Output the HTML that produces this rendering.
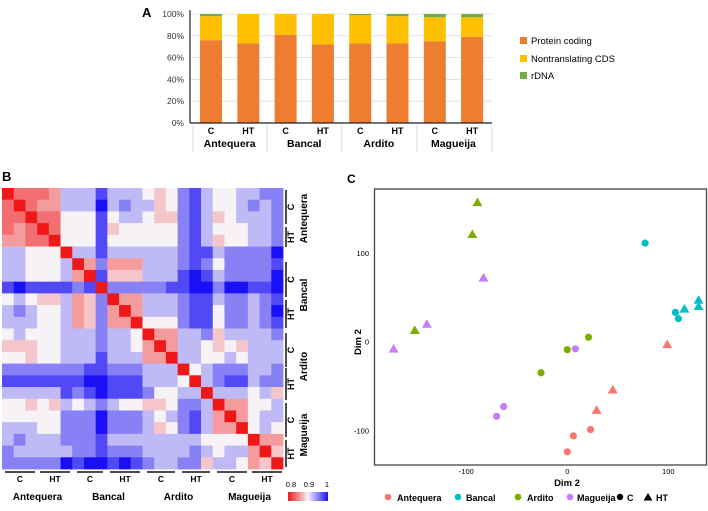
<!DOCTYPE html>
<html><head><meta charset="utf-8">
<style>
html,body{margin:0;padding:0;background:#fff;}
svg{display:block;font-family:"Liberation Sans",sans-serif;}
</style></head>
<body>
<svg id="fig" width="708" height="511" viewBox="0 0 708 511">
<g id="pa"></g>
<g id="pb"></g>
<g id="pc"></g>
</svg>
<script>
// ---------- Panel A data ----------
const barLabels=["C","HT","C","HT","C","HT","C","HT"];
const barGroups=["Antequera","Bancal","Ardito","Magueija"];
const proteinCoding=[76,73,81,72,73,73,75,79];
const nontranslating=[22,27,19,28,26,25,22,18];
const rDNA=[2,0,0,0,1,2,3,3];
const pctTicks=[0,20,40,60,80,100];
// ---------- Panel B data ----------
const hmRows=[
"022236668666545786556677",
"202336669676645786556767",
"220225558566544786456667",
"232025558455555786555667",
"332205558555555786455667",
"665550668666666788677779",
"665556037333666787577778",
"665556308444666898677779",
"898888780777778899799889",
"565446347033666788677678",
"676556347303666788577679",
"666556347330555788577678",
"565556667665033667466667",
"444556667665303665454666",
"554556668666330665565666",
"777777788777666056777667",
"888888899888666506788677",
"666668789888755660666564",
"554546567655445776033556",
"555557779777656786303566",
"666557779777645786330565",
"676667778666666665555033",
"766666778777666676566304",
"777779899898766774665340"];
const hmGroups=["Antequera","Bancal","Ardito","Magueija"];
const hmScaleTicks=["0.8","0.9","1"];
// ---------- Panel C data ----------
const cultivars=["Antequera","Bancal","Ardito","Magueija"];
const cultivarColors=["#F8766D","#00BFC4","#7CAE00","#C77CFF"];
const ptCultivar=[0,0,0,0,0,0,1,1,1,1,1,1,2,2,2,2,2,2,3,3,3,3,3,3];
const ptTreat=["C","C","C","HT","HT","HT","C","C","C","HT","HT","HT","C","C","C","HT","HT","HT","C","C","C","HT","HT","HT"];
const dim1=[0,6,23,99,45,29,77,107,110,116,130,130,21,0,-26,-89,-94,-151,8,-63,-70,-83,-139,-172];
const dim2=[-124,-106,-99,-3,-54,-77,111,33,26,37,47,40,5,-9,-35,157,121,13,-8,-73,-84,72,20,-8];
const cTicks=[-100,0,100];

const NS="http://www.w3.org/2000/svg";
function mk(parent,tag,attrs,text){const e=document.createElementNS(NS,tag);for(const k in attrs)e.setAttribute(k,attrs[k]);if(text!==undefined)e.textContent=text;parent.appendChild(e);return e;}

// ===== Panel A =====
const pa=document.getElementById('pa');
const ax0=190,ax1=492,ay0=123,ay1=14;
const yA=v=>ay0-(v/100)*(ay0-ay1);
const xA=i=>211+i*37.3;
let t=mk(pa,'text',{x:142,y:17,'font-size':13,'font-weight':'bold'},'A');


pctTicks.forEach(v=>{
 const g=mk(pa,'line',{x1:ax0,x2:ax1,y1:yA(v),y2:yA(v),stroke:'#dcdcdc','stroke-width':0.8});
 
 
 const l=mk(pa,'text',{x:184,y:yA(v)+3,'font-size':8.5,'text-anchor':'end',fill:'#333'},v+'%');
 
 
});
proteinCoding.forEach((v,i)=>{
 const x=xA(i)-11;
 let b=mk(pa,'rect',{x:x,y:yA(v),width:22,height:yA(0)-yA(v),fill:'#ED7D31'});
 
 
 const n=nontranslating[i];
 b=mk(pa,'rect',{x:x,y:yA(v+n),width:22,height:yA(v)-yA(v+n),fill:'#FFC000'});
 
 
 const r=rDNA[i];
 b=mk(pa,'rect',{x:x,y:yA(v+n+r),width:22,height:yA(v+n)-yA(v+n+r),fill:'#70AD47'});
 
 
 const l=mk(pa,'text',{x:xA(i),y:134,'font-size':9,'font-weight':'bold','text-anchor':'middle'},barLabels[i]);
 
 
});
let ln=mk(pa,'line',{x1:ax0,x2:ax0,y1:10,y2:ay0,stroke:'#222','stroke-width':1.2});


ln=mk(pa,'line',{x1:ax0,x2:ax1,y1:ay0,y2:ay0,stroke:'#222','stroke-width':1.2});


[193,267,342,417,492].forEach(x=>{
 const s=mk(pa,'line',{x1:x,x2:x,y1:125,y2:152,stroke:'#d0d0d0','stroke-width':0.8});
 
 
});
barGroups.forEach((g,i)=>{
 const l=mk(pa,'text',{x:(xA(2*i)+xA(2*i+1))/2,y:147,'font-size':10.5,'font-weight':'bold','text-anchor':'middle'},g);
 
 
});
[["Protein coding","#ED7D31",41],["Nontranslating CDS","#FFC000",59],["rDNA","#70AD47",76]].forEach(d=>{
 const r=mk(pa,'rect',{x:520,y:d[2]-4,width:7,height:7,fill:d[1]});
 
 
 const l=mk(pa,'text',{x:531,y:d[2]+3,'font-size':9.5},d[0]);
 
 
});

// ===== Panel B =====
const pb=document.getElementById('pb');
t=mk(pb,'text',{x:2,y:181,'font-size':13,'font-weight':'bold'},'B');


const hx0=2,hy0=188,cs=281/24;
const red=[238,24,24],wht=[246,242,246],blu=[26,16,245];
function col(d){let a,b,f;if(d<=5){a=red;b=wht;f=d/5;}else{a=wht;b=blu;f=(d-5)/4;}
 return 'rgb('+a.map((c,k)=>Math.round(c+(b[k]-c)*f)).join(',')+')';}
hmRows.forEach((row,r)=>{
 for(let c=0;c<row.length;c++){
  const cell=mk(pb,'rect',{x:hx0+c*cs,y:hy0+r*cs,width:cs+0.4,height:cs+0.4,fill:col(+row[c])});
  
  
 }
});
const rightBars=[[190,224,"C"],[227,247,"HT"],[262,297,"C"],[300,328,"HT"],[333,367,"C"],[368,400,"HT"],[403,437,"C"],[440,467,"HT"]];
rightBars.forEach(b=>{
 const l=mk(pb,'line',{x1:286,x2:286,y1:b[0],y2:b[1],stroke:'#111','stroke-width':1.5});
 
 
 const cy=(b[0]+b[1])/2;
 const tx=mk(pb,'text',{x:0,y:0,'font-size':9,'font-weight':'bold','text-anchor':'middle',transform:'translate(294,'+cy+') rotate(-90)'},b[2]);
 
 
});
hmGroups.forEach((g,i)=>{
 const cy=(rightBars[2*i][0]+rightBars[2*i+1][1])/2;
 const tx=mk(pb,'text',{x:0,y:0,'font-size':10,'font-weight':'bold','text-anchor':'middle',transform:'translate(307,'+cy+') rotate(-90)'},g);
 
 
});
const botBars=[[5,35,"C"],[40,70,"HT"],[77,103,"C"],[110,140,"HT"],[147,175,"C"],[182,210,"HT"],[217,247,"C"],[252,282,"HT"]];
botBars.forEach(b=>{
 const l=mk(pb,'line',{x1:b[0],x2:b[1],y1:472,y2:472,stroke:'#111','stroke-width':1.5});
 
 
 const tx=mk(pb,'text',{x:(b[0]+b[1])/2,y:482,'font-size':8.5,'font-weight':'bold','text-anchor':'middle'},b[2]);
 
 
});
hmGroups.forEach((g,i)=>{
 const tx=mk(pb,'text',{x:(botBars[2*i][0]+botBars[2*i+1][1])/2,y:500,'font-size':10,'font-weight':'bold','text-anchor':'middle'},g);
 
 
});
const defs=mk(pb,'defs',{});
const lg=mk(defs,'linearGradient',{id:'hmg',x1:0,x2:1,y1:0,y2:0});
mk(lg,'stop',{offset:'0','stop-color':'rgb(238,24,24)'});
mk(lg,'stop',{offset:'0.5','stop-color':'rgb(246,242,246)'});
mk(lg,'stop',{offset:'1','stop-color':'rgb(26,16,245)'});
const sb=mk(pb,'rect',{x:288,y:492,width:40,height:9,fill:'url(#hmg)'});


hmScaleTicks.forEach((s,i)=>{
 const tx=mk(pb,'text',{x:291+i*18,y:487,'font-size':7.5,'text-anchor':'middle'},s);
 
 
});

// ===== Panel C =====
const pc=document.getElementById('pc');
t=mk(pc,'text',{x:347,y:183,'font-size':12,'font-weight':'bold'},'C');


const xC=v=>567.3+v*1.01, yC=v=>341.7-v*0.888;
const fr=mk(pc,'rect',{x:374.5,y:189,width:332,height:276,fill:'none',stroke:'#444','stroke-width':1.3});


cTicks.forEach(v=>{
 let tx=mk(pc,'text',{x:369,y:yC(v)+3,'font-size':7.5,'text-anchor':'end'},v===-100?'-100':String(v));
 
 
 tx=mk(pc,'text',{x:xC(v),y:474,'font-size':7.5,'text-anchor':'middle'},String(v));
 
 
});
t=mk(pc,'text',{x:567,y:486,'font-size':9.5,'font-weight':'bold','text-anchor':'middle'},'Dim 2');


t=mk(pc,'text',{x:0,y:0,'font-size':9.5,'font-weight':'bold','text-anchor':'middle',transform:'translate(361,342) rotate(-90)'},'Dim 2');


dim1.forEach((v,i)=>{
 const x=xC(v),y=yC(dim2[i]),c=cultivarColors[ptCultivar[i]];
 let p;
 if(ptTreat[i]==="C"){p=mk(pc,'circle',{cx:x,cy:y,r:3.6,fill:c});}
 else{p=mk(pc,'polygon',{points:(x)+','+(y-4.8)+' '+(x-5)+','+(y+3.8)+' '+(x+5)+','+(y+3.8),fill:c});}
 
 
});
const legX=[[388,397],[458,466],[518,527],[570,577]];
cultivars.forEach((n,i)=>{
 const d=mk(pc,'circle',{cx:legX[i][0],cy:497,r:3.3,fill:cultivarColors[i]});
 
 
 const tx=mk(pc,'text',{x:legX[i][1],y:501,'font-size':9,'font-weight':'bold'},n);
 
 
});
let d=mk(pc,'circle',{cx:620,cy:497,r:3.2,fill:'#000'});


t=mk(pc,'text',{x:627,y:501,'font-size':9,'font-weight':'bold'},'C');


d=mk(pc,'polygon',{points:'648,493 643.5,500.5 652.5,500.5',fill:'#000'});


t=mk(pc,'text',{x:656,y:501,'font-size':9,'font-weight':'bold'},'HT');


</script>
</body></html>
